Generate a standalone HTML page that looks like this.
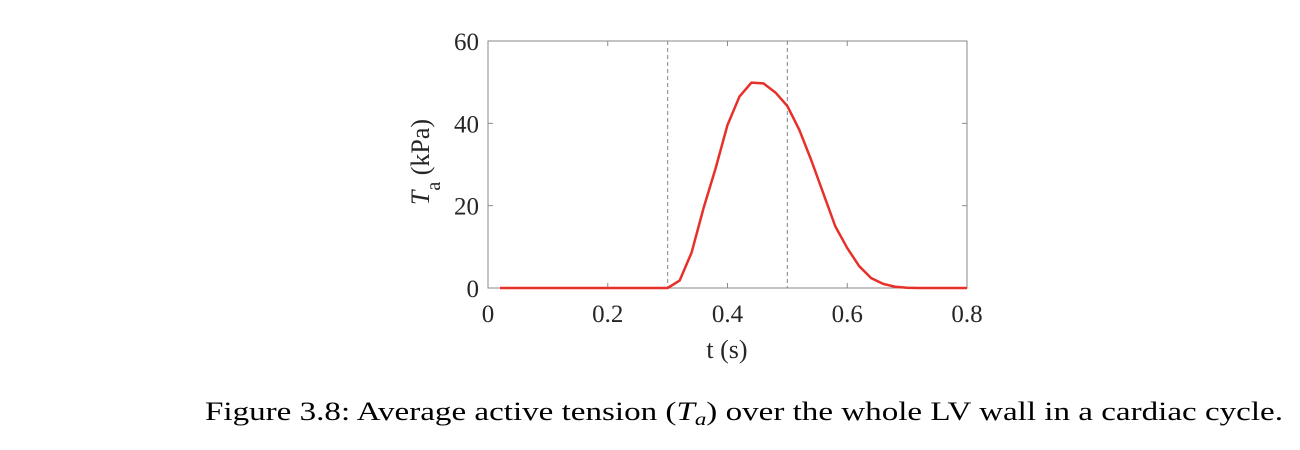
<!DOCTYPE html>
<html><head><meta charset="utf-8"><style>
html,body{margin:0;padding:0;background:#fff;width:1300px;height:450px;overflow:hidden}
svg text{font-family:"Liberation Serif",serif;fill:#262626}
</style></head><body>
<svg width="1300" height="450">
<g id="plot"></g>
<text x="744" y="420" text-anchor="middle" font-size="26" textLength="1078" lengthAdjust="spacingAndGlyphs" style="fill:#000">Figure 3.8: Average active tension (<tspan font-style="italic">T</tspan><tspan font-style="italic" font-size="18" dy="5">a</tspan><tspan dy="-5">) over the whole LV wall in a cardiac cycle.</tspan></text>
</svg>
<script>
const times=[0.02,0.04,0.06,0.08,0.10,0.12,0.14,0.16,0.18,0.20,0.22,0.24,0.26,0.28,0.30,0.32,0.34,0.36,0.38,0.40,0.42,0.44,0.46,0.48,0.50,0.52,0.54,0.56,0.58,0.60,0.62,0.64,0.66,0.68,0.70,0.72,0.74,0.76,0.78,0.80];
const tension=[0,0,0,0,0,0,0,0,0,0,0,0,0,0,0,1.8,8.6,19.4,29,39.6,46.5,49.9,49.7,47.5,44.2,38.4,31,23,15,9.7,5.3,2.4,1,0.3,0.05,0,0,0,0,0];
const xTicks=[0,0.2,0.4,0.6,0.8];
const xTickLabels=["0","0.2","0.4","0.6","0.8"];
const yTicks=[0,20,40,60];
const yTickLabels=["0","20","40","60"];
const markers=[0.3,0.5];
const NS="http://www.w3.org/2000/svg";
const L=488,R=967,T=41,B=288;
const xs=v=>L+(v-0)/(0.8)*(R-L);
const ys=v=>B-(v/60)*(B-T);
const g=document.getElementById('plot');
function mk(tag,attrs,parent){const e=document.createElementNS(NS,tag);for(const k in attrs)e.setAttribute(k,attrs[k]);(parent||g).appendChild(e);return e;}
markers.forEach(m=>{
 const e=mk('line',{x1:xs(m),x2:xs(m),y1:T,y2:B,stroke:'#999','stroke-width':1.2,'stroke-dasharray':'4,3'});
 
 
});
const box=mk('rect',{x:L,y:T,width:R-L,height:B-T,fill:'none',stroke:'#8a8a8a','stroke-width':1});


xTicks.forEach((v,i)=>{
 mk('line',{x1:xs(v),x2:xs(v),y1:B,y2:B-5,stroke:'#8a8a8a'});
 mk('line',{x1:xs(v),x2:xs(v),y1:T,y2:T+5,stroke:'#8a8a8a'});
 const t=mk('text',{x:xs(v),y:322,'text-anchor':'middle','font-size':25});
 t.textContent=xTickLabels[i];
 
 
});
yTicks.forEach((v,i)=>{
 mk('line',{x1:L,x2:L+5,y1:ys(v),y2:ys(v),stroke:'#8a8a8a'});
 mk('line',{x1:R,x2:R-5,y1:ys(v),y2:ys(v),stroke:'#8a8a8a'});
 const t=mk('text',{x:479,y:ys(v)+9,'text-anchor':'end','font-size':25});
 t.textContent=yTickLabels[i];
 
 
});
const pl=mk('polyline',{points:times.map((t,i)=>xs(t)+','+ys(tension[i])).join(' '),fill:'none',stroke:'#e8302a','stroke-width':2.5,'stroke-linejoin':'round'});


const xl=mk('text',{x:727,y:358,'text-anchor':'middle','font-size':26});
xl.textContent='t (s)';


const yl=mk('text',{transform:'translate(429,162) rotate(-90)','text-anchor':'middle','font-size':26});
yl.innerHTML='<tspan font-style="italic">T</tspan><tspan font-size="20" dy="11">a</tspan><tspan dy="-11"> (kPa)</tspan>';


</script>
</body></html>
